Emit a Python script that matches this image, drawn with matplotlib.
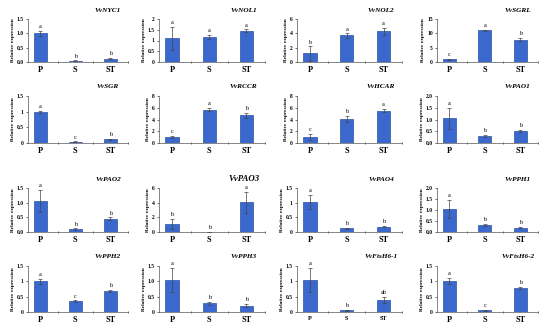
import numpy as np
import matplotlib.pyplot as plt

plt.rcParams['font.family'] = ['Liberation Serif', 'DejaVu Serif']

groups = ["P", "S", "ST"]

genes = ["VvNYC1", "VvNOL1", "VvNOL2", "VvSGRL",
         "VvSGR", "VvRCCR", "VvHCAR", "VvPAO1",
         "VvPAO2", "VvPAO3", "VvPAO4", "VvPPH1",
         "VvPPH2", "VvPPH3", "VvFtsH6-1", "VvFtsH6-2"]

means = [
    [1.00, 0.05, 0.12],
    [1.10, 1.15, 1.45],
    [1.20, 3.70, 4.30],
    [1.00, 11.0, 7.80],
    [1.00, 0.04, 0.12],
    [1.00, 5.70, 4.70],
    [1.00, 4.10, 5.50],
    [1.05, 0.30, 0.50],
    [1.05, 0.10, 0.45],
    [1.05, 0.02, 4.05],
    [1.02, 0.13, 0.18],
    [1.05, 0.33, 0.20],
    [1.00, 0.35, 0.68],
    [1.05, 0.28, 0.20],
    [1.05, 0.05, 0.38],
    [1.00, 0.05, 0.78],
]

errors = [
    [0.08, 0.01, 0.03],
    [0.55, 0.10, 0.07],
    [1.00, 0.30, 0.50],
    [0.20, 0.30, 0.50],
    [0.03, 0.01, 0.02],
    [0.20, 0.30, 0.40],
    [0.50, 0.50, 0.30],
    [0.45, 0.05, 0.05],
    [0.38, 0.02, 0.05],
    [0.70, 0.01, 1.40],
    [0.25, 0.02, 0.02],
    [0.40, 0.05, 0.03],
    [0.08, 0.03, 0.04],
    [0.40, 0.05, 0.05],
    [0.40, 0.02, 0.10],
    [0.10, 0.01, 0.04],
]

letters = [
    ["a", "b", "b"], ["a", "a", "a"], ["b", "a", "a"], ["c", "a", "b"],
    ["a", "c", "b"], ["c", "a", "b"], ["c", "b", "a"], ["a", "b", "b"],
    ["a", "b", "b"], ["b", "b", "a"], ["a", "b", "b"], ["a", "b", "b"],
    ["a", "c", "b"], ["a", "b", "b"], ["a", "b", "ab"], ["a", "c", "b"],
]

yticks = [
    ([0, 0.5, 1.0, 1.5], ["0.0", "0.5", "1.0", "1.5"]),
    ([0, 0.5, 1, 1.5, 2], ["0", "0.5", "1", "1.5", "2"]),
    ([0, 2, 4, 6], ["0", "2", "4", "6"]),
    ([0, 5, 10, 15], ["0", "5", "10", "15"]),
    ([0, 0.5, 1, 1.5], ["0", "0.5", "1", "1.5"]),
    ([0, 2, 4, 6, 8], ["0", "2", "4", "6", "8"]),
    ([0, 2, 4, 6, 8], ["0", "2", "4", "6", "8"]),
    ([0, 0.5, 1.0, 1.5, 2.0], ["0.0", "0.5", "1.0", "1.5", "2.0"]),
    ([0, 0.5, 1.0, 1.5], ["0.0", "0.5", "1.0", "1.5"]),
    ([0, 2, 4, 6], ["0", "2", "4", "6"]),
    ([0, 0.5, 1, 1.5], ["0", "0.5", "1", "1.5"]),
    ([0, 0.5, 1.0, 1.5, 2.0], ["0.0", "0.5", "1.0", "1.5", "2.0"]),
    ([0, 0.5, 1, 1.5], ["0", "0.5", "1", "1.5"]),
    ([0, 0.5, 1.0, 1.5], ["0", "0.5", "1.0", "1.5"]),
    ([0, 0.5, 1, 1.5], ["0", "0.5", "1", "1.5"]),
    ([0, 0.5, 1, 1.5], ["0", "0.5", "1", "1.5"]),
]

W, H = 550, 331
fig = plt.figure(figsize=(5.5, 3.31), dpi=100)

# axes boxes in pixels
col_left = [28, 159, 297, 437]
col_width = [100, 106, 105, 101]
row_top = [19, 96, 188, 266]
row_bot = [62, 143, 232, 312]

x = np.arange(3)

for i, gene in enumerate(genes):
    r, c = divmod(i, 4)
    left = col_left[c] / W
    bottom = 1 - row_bot[r] / H
    ax = fig.add_axes([left, bottom, col_width[c] / W, (row_bot[r] - row_top[r]) / H])

    m = np.array(means[i])
    e = np.array(errors[i])
    ax.bar(x, m, width=0.36, color="#3b68cc", edgecolor="#2a52a8", linewidth=0.5)
    ax.errorbar(x, m, yerr=e, fmt="none", ecolor="#444444", elinewidth=0.5,
                capsize=1.2, capthick=0.5)

    ticks, labels = yticks[i]
    ax.set_ylim(0, ticks[-1])
    ax.set_yticks(ticks)
    ax.set_yticklabels(labels, fontsize=4, fontweight="bold")
    ax.set_xlim(-0.35, 2.5)
    ax.set_xticks(x)
    fs = 4.5 if gene == "VvFtsH6-1" else 6
    ax.set_xticklabels(groups, fontsize=fs, fontweight="bold")
    ax.set_xticks([0.5, 1.5, 2.5], minor=True)
    ax.tick_params(axis="x", which="major", length=0, pad=3)
    ax.tick_params(axis="x", which="minor", length=2, width=0.4, direction="inout")
    ax.tick_params(axis="y", length=1.5, width=0.4, pad=1.5)

    for s in ["top", "right"]:
        ax.spines[s].set_visible(False)
    for s in ["left", "bottom"]:
        ax.spines[s].set_linewidth(0.5)
        ax.spines[s].set_color("#555555")

    ax.set_ylabel("Relative expression", fontsize=3.8, fontweight="bold", labelpad=1.5)

    top = ticks[-1]
    for j in range(3):
        ax.text(x[j], m[j] + e[j] + top * 0.04, letters[i][j], ha="center",
                va="bottom", fontsize=4.5)

    tfs = 6.3 if gene == "VvPAO3" else 5.2
    ax.text(0.8, 1.2, gene, transform=ax.transAxes, ha="center", va="center",
            fontsize=tfs, fontweight="bold", fontstyle="italic")

fig.savefig("out.png", dpi=100)
